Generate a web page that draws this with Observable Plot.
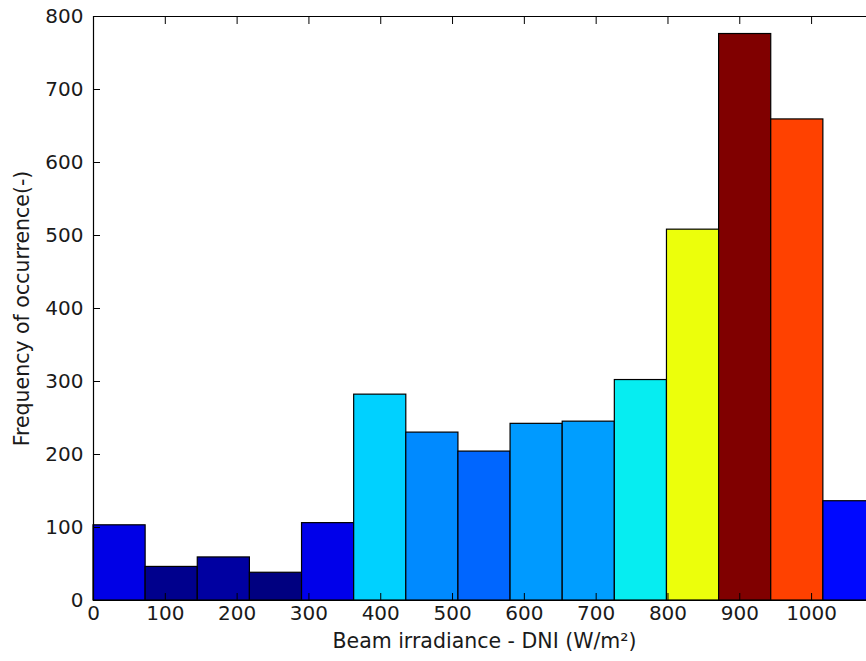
<!DOCTYPE html>
<html><head><meta charset="utf-8">
<script src="https://cdn.jsdelivr.net/npm/d3@7"></script>
<script src="https://cdn.jsdelivr.net/npm/@observablehq/plot@0.6"></script>
<style>
body{margin:0;background:#fff;overflow:hidden;}
#chart{width:866px;height:661px;overflow:hidden;}
#chart svg{font-family:"DejaVu Sans",sans-serif;max-width:none !important;display:block;}
</style></head><body><div id="chart"></div>
<script>
// Histogram bin edges (W/m²) and counts per bin
const binEdges = [0, 72.6, 145.2, 217.8, 290.4, 363, 435.6, 508.2, 580.8, 653.4, 726, 798.6, 871.2, 943.8, 1016.4, 1089];
const counts = [103, 46, 59, 38, 106, 282, 230, 204, 242, 245, 302, 508, 776, 659, 136];
const xTicks = [0, 100, 200, 300, 400, 500, 600, 700, 800, 900, 1000];
const yTicks = [0, 100, 200, 300, 400, 500, 600, 700, 800];
const xLabel = "Beam irradiance - DNI (W/m²)";
const yLabel = "Frequency of occurrence(-)";

const bins = counts.map((c, i) => ({x1: binEdges[i], x2: binEdges[i + 1], count: c}));

// matplotlib "jet" colormap as piecewise-linear stops
const seg = {
  r: [[0,0],[0.35,0],[0.66,1],[0.89,1],[1,0.5]],
  g: [[0,0],[0.125,0],[0.375,1],[0.64,1],[0.91,0],[1,0]],
  b: [[0,0.5],[0.11,1],[0.34,1],[0.65,0],[1,0]]
};
function segVal(s, t) {
  for (let i = 1; i < s.length; i++) {
    if (t <= s[i][0]) {
      const [t0, v0] = s[i - 1], [t1, v1] = s[i];
      return v0 + (v1 - v0) * (t - t0) / (t1 - t0);
    }
  }
  return s[s.length - 1][1];
}
const stops = [0, 0.11, 0.125, 0.34, 0.35, 0.375, 0.64, 0.65, 0.66, 0.89, 0.91, 1];
const cMin = d3.min(counts), cMax = d3.max(counts);
const colorDomain = stops.map(t => cMin + t * (cMax - cMin));
const colorRange = stops.map(t => d3.rgb(segVal(seg.r, t) * 255, segVal(seg.g, t) * 255, segVal(seg.b, t) * 255).formatHex());

const font = 20;
const labelFont = 20.5;
const chart = Plot.plot({
  width: 890,
  height: 661,
  marginTop: 16,
  marginBottom: 61,
  marginLeft: 93,
  marginRight: 15,
  style: {fontSize: font + "px", fontFamily: "DejaVu Sans, sans-serif", color: "#000", background: "#fff", maxWidth: "none"},
  x: {domain: [0, 1089]},
  y: {domain: [0, 800]},
  color: {type: "linear", domain: colorDomain, range: colorRange, interpolate: "rgb"},
  marks: [
    Plot.rectY(bins, {x1: "x1", x2: "x2", y: "count", fill: "count", stroke: "#000", strokeWidth: 1.2}),
    Plot.ruleY([0, 800], {stroke: "#000", strokeWidth: 1.2}),
    Plot.ruleX([0], {stroke: "#000", strokeWidth: 1.2}),
    Plot.ruleX([1089], {stroke: "#000", strokeWidth: 1.2}),
    Plot.axisX({anchor: "bottom", ticks: xTicks, tickSize: -7, tickPadding: 12, tickFormat: d3.format("d"), label: null, fontSize: font, fill: "#1a1a1a"}),
    Plot.axisX({anchor: "top", ticks: xTicks, tickSize: -7, tickFormat: () => "", label: null}),
    Plot.axisY({anchor: "left", ticks: yTicks, tickSize: -7, tickPadding: 17, label: null, fontSize: font, fill: "#1a1a1a"}),
    Plot.axisY({anchor: "right", ticks: yTicks, tickSize: -7, tickFormat: () => "", label: null}),
    Plot.text([xLabel], {frameAnchor: "bottom", dy: 47, fontSize: labelFont, fill: "#1a1a1a"}),
    Plot.text([yLabel], {frameAnchor: "left", textAnchor: "middle", dx: -71, rotate: -90, fontSize: labelFont, fill: "#1a1a1a"})
  ]
});
document.getElementById("chart").appendChild(chart);
</script>
</body></html>
